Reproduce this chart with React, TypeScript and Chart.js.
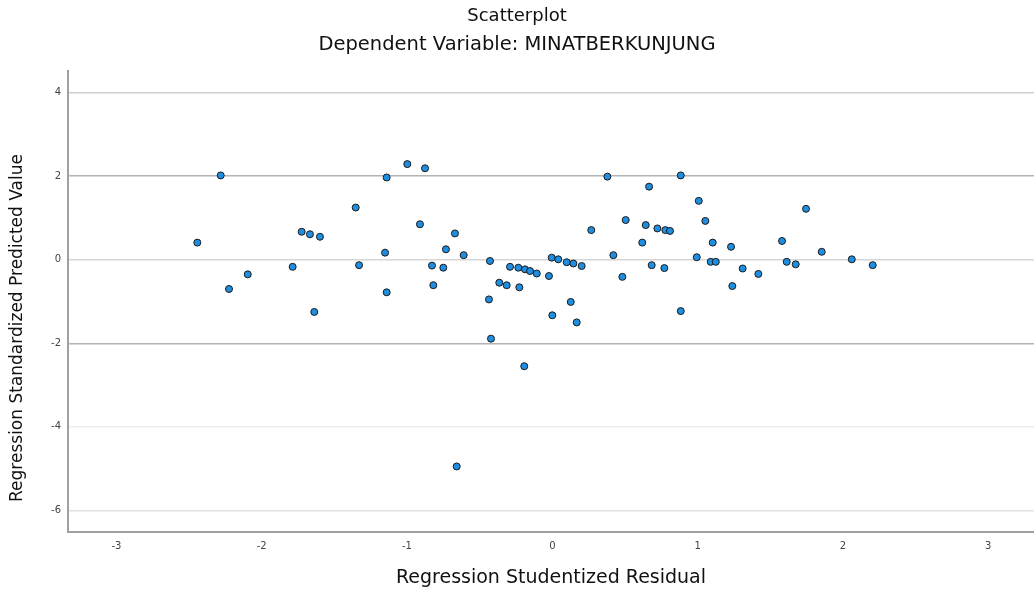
import React, { useEffect, useRef } from "react";
import { Chart, registerables } from "chart.js";

Chart.register(...registerables);

const chartTitle = "Scatterplot";
const chartSubtitle = "Dependent Variable: MINATBERKUNJUNG";
const xAxisTitle = "Regression Studentized Residual";
const yAxisTitle = "Regression Standardized Predicted Value";

const xTicks = [-3, -2, -1, 0, 1, 2, 3];
const yTicks = [-6, -4, -2, 0, 2, 4];

// Regression Studentized Residual
const residuals = [
  -2.282, -0.998, -0.876, -1.14, -1.353, -0.911, -0.67, -1.725, -1.668, -1.599,
  -2.443, -1.151, -0.732, -0.61, -1.787, -1.33, -0.828, -0.75, -2.096, -2.225,
  -0.819, -1.14, -1.638,
  0.379, 0.884, 0.666, 1.008, 1.746, 0.505, 1.053, 0.643, 0.723, 0.778,
  0.81, 0.268, 0.619, 1.104, 1.23, 1.581, 1.854, 0.42, 0.994, 1.09,
  1.125, 1.613, 1.675, 2.061, 2.205, -0.429, 0.684, 0.771, 1.31, 1.418,
  -0.004, 0.041, 0.099, 0.145, 0.202, -0.291, -0.234, -0.188, -0.153, -0.107,
  -0.023, 0.482, -0.365, -0.314, -0.227, 1.239, -0.436, 0.127, 0.0, 0.168,
  0.884, -0.422, -0.193, -0.658,
];

// Regression Standardized Predicted Value
const predicted = [
  2.02, 2.29, 2.19, 1.97, 1.25, 0.85, 0.63, 0.67, 0.61, 0.55,
  0.41, 0.17, 0.25, 0.11, -0.17, -0.13, -0.14, -0.19, -0.35, -0.7,
  -0.61, -0.78, -1.25,
  1.99, 2.02, 1.75, 1.41, 1.22, 0.95, 0.93, 0.83, 0.75, 0.71,
  0.69, 0.71, 0.41, 0.41, 0.31, 0.45, 0.19, 0.11, 0.06, -0.05,
  -0.05, -0.05, -0.11, 0.01, -0.13, -0.03, -0.13, -0.2, -0.21, -0.34,
  0.05, 0.01, -0.06, -0.09, -0.15, -0.17, -0.19, -0.23, -0.27, -0.33,
  -0.39, -0.41, -0.55, -0.61, -0.66, -0.63, -0.95, -1.01, -1.33, -1.5,
  -1.23, -1.89, -2.55, -4.95,
];

const gridColors: Record<string, string> = {
  "4": "#cfcfcf",
  "2": "#b4b4b4",
  "0": "#d6d6d6",
  "-2": "#b4b4b4",
  "-4": "#ededed",
  "-6": "#e2e2e2",
};

const yTitlePlugin = {
  id: "yTitlePlugin",
  afterDraw(chart: any) {
    const ctx = chart.ctx;
    ctx.save();
    ctx.translate(18, 328);
    ctx.rotate(-Math.PI / 2);
    ctx.fillStyle = "#111";
    ctx.font = "normal 17px 'DejaVu Sans'";
    ctx.textAlign = "center";
    ctx.textBaseline = "middle";
    ctx.fillText(yAxisTitle, 0, 0);
    ctx.restore();
  },
};

export default function App() {
  const canvasRef = useRef<HTMLCanvasElement | null>(null);

  useEffect(() => {
    const canvas = canvasRef.current;
    if (!canvas) return;
    const points = residuals.map((x, i) => ({ x, y: predicted[i] }));
    const chart = new Chart(canvas, {
      type: "scatter",
      data: {
        datasets: [
          {
            data: points,
            backgroundColor: "#1f8ee0",
            borderColor: "#1a1a1a",
            borderWidth: 1,
            pointRadius: 3.5,
            pointHoverRadius: 3.5,
          },
        ],
      },
      plugins: [yTitlePlugin],
      options: {
        responsive: false,
        animation: false,
        layout: { padding: 0, autoPadding: false },
        plugins: {
          legend: { display: false },
          tooltip: { enabled: false },
          title: {
            display: true,
            text: chartTitle,
            color: "#111",
            font: { family: "DejaVu Sans", size: 18, weight: "normal", lineHeight: 1.2 },
            padding: { top: 6, bottom: 3 },
          },
          subtitle: {
            display: true,
            text: chartSubtitle,
            color: "#111",
            font: { family: "DejaVu Sans", size: 19.5, weight: "normal", lineHeight: 1.2 },
            padding: { top: 3, bottom: 14 },
          },
        },
        scales: {
          x: {
            type: "linear",
            min: -3.333,
            max: 3.315,
            afterBuildTicks: (scale: any) => {
              scale.ticks = xTicks.map((v) => ({ value: v }));
            },
            afterFit: (scale: any) => {
              scale.height = 66;
              scale.paddingLeft = 0;
              scale.paddingRight = 0;
            },
            grid: { display: false, drawTicks: false },
            border: { display: true, color: "#a0a0a0", width: 2 },
            ticks: {
              color: "#444",
              padding: 8,
              font: { family: "DejaVu Sans", size: 10 },
              maxRotation: 0,
              autoSkip: false,
            },
            title: {
              display: true,
              text: xAxisTitle,
              color: "#111",
              font: { family: "DejaVu Sans", size: 19, weight: "normal", lineHeight: 1.2 },
              padding: { top: 0, bottom: 9 },
            },
          },
          y: {
            type: "linear",
            min: -6.52,
            max: 4.52,
            afterBuildTicks: (scale: any) => {
              scale.ticks = yTicks.map((v) => ({ value: v }));
            },
            afterFit: (scale: any) => {
              scale.width = 68;
              scale.paddingTop = 0;
              scale.paddingBottom = 0;
            },
            grid: {
              display: true,
              drawTicks: false,
              lineWidth: 1.5,
              color: (ctx: any) => gridColors[String(ctx.tick ? ctx.tick.value : 0)] || "#dddddd",
            },
            border: { display: true, color: "#a0a0a0", width: 2 },
            ticks: {
              color: "#444",
              padding: 7,
              font: { family: "DejaVu Sans", size: 10 },
              autoSkip: false,
            },
            title: { display: false, text: yAxisTitle },
          },
        },
      },
    });
    return () => chart.destroy();
  }, []);

  return (
    <div style={{ position: "fixed", left: 0, top: 0, width: 1034, height: 598, background: "#fff" }}>
      <canvas ref={canvasRef} width={1034} height={598} style={{ width: 1034, height: 598, display: "block" }} />
    </div>
  );
}
